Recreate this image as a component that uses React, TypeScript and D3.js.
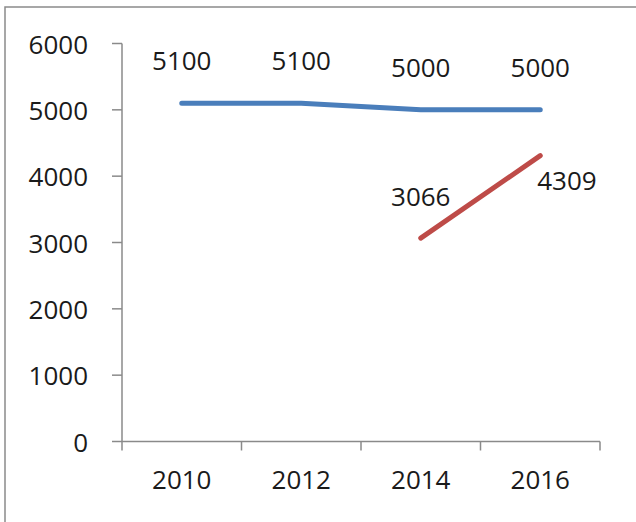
import { scaleLinear, scalePoint, line as d3line } from "d3";

const years = ["2010", "2012", "2014", "2016"];
const seriesBlue = [5100, 5100, 5000, 5000];
const seriesRed: (number | null)[] = [null, null, 3066, 4309];
const yTicks = [0, 1000, 2000, 3000, 4000, 5000, 6000];

const W = 636;
const H = 522;
const font = "'Open Sans', 'Noto Sans', sans-serif";

export default function App() {
  const left = 122;
  const right = 600;
  const top = 43.5;
  const bottom = 441.5;

  const y = scaleLinear().domain([0, 6000]).range([bottom, top]);
  const bandW = (right - left) / years.length;
  const x = scalePoint<string>()
    .domain(years)
    .range([left + bandW / 2, right - bandW / 2]);
  const bounds = [...years.map((yr) => x(yr)! - bandW / 2), right];

  const line = d3line<[string, number | null]>()
    .defined((d) => d[1] !== null)
    .x((d) => x(d[0])!)
    .y((d) => y(d[1] as number));

  const bluePts = years.map((yr, i) => [yr, seriesBlue[i]] as [string, number | null]);
  const redPts = years.map((yr, i) => [yr, seriesRed[i]] as [string, number | null]);

  return (
    <svg
      width={W}
      height={H}
      style={{ position: "absolute", left: 0, top: 0, background: "#fff" }}
      fontFamily={font}
    >
      {/* outer chart border, running off the right and bottom edges */}
      <rect x={5} y={7} width={W + 20} height={H + 20} fill="none" stroke="#8a8a8a" strokeWidth={1.5} />

      {/* axes */}
      <line x1={left} x2={left} y1={top} y2={bottom} stroke="#8a8a8a" strokeWidth={1.5} />
      <line x1={left} x2={right} y1={bottom} y2={bottom} stroke="#8a8a8a" strokeWidth={1.5} />
      {yTicks.map((t) => (
        <g key={t}>
          <line x1={left - 10} x2={left} y1={y(t)} y2={y(t)} stroke="#8a8a8a" strokeWidth={1.5} />
          <text
            x={88}
            y={y(t)}
            textAnchor="end"
            dominantBaseline="central"
            fontSize={26}
            fill="#1a1a1a"
          >
            {t}
          </text>
        </g>
      ))}
      {bounds.map((bx, i) => (
        <line key={i} x1={bx} x2={bx} y1={bottom} y2={bottom + 9} stroke="#8a8a8a" strokeWidth={1.5} />
      ))}
      {years.map((yr) => (
        <text
          key={yr}
          x={x(yr)}
          y={479}
          textAnchor="middle"
          dominantBaseline="central"
          fontSize={26}
          fill="#1a1a1a"
        >
          {yr}
        </text>
      ))}

      {/* series */}
      <path d={line(bluePts) ?? undefined} fill="none" stroke="#4a7ebb" strokeWidth={5} strokeLinecap="round" />
      <path d={line(redPts) ?? undefined} fill="none" stroke="#be4b48" strokeWidth={5} strokeLinecap="round" />

      {/* data labels */}
      {bluePts.map(([yr, v]) => (
        <text
          key={"b" + yr}
          x={x(yr)}
          y={y(v as number) - 43}
          textAnchor="middle"
          dominantBaseline="central"
          fontSize={26}
          fill="#1a1a1a"
        >
          {v}
        </text>
      ))}
      {redPts
        .filter((d) => d[1] !== null)
        .map(([yr, v], i, arr) => {
          const last = i === arr.length - 1;
          return (
            <text
              key={"r" + yr}
              x={x(yr)! + (last ? -3 : 0)}
              y={y(v as number) + (last ? 24 : -42)}
              textAnchor={last ? "start" : "middle"}
              dominantBaseline="central"
              fontSize={26}
              fill="#1a1a1a"
            >
              {v}
            </text>
          );
        })}
    </svg>
  );
}
